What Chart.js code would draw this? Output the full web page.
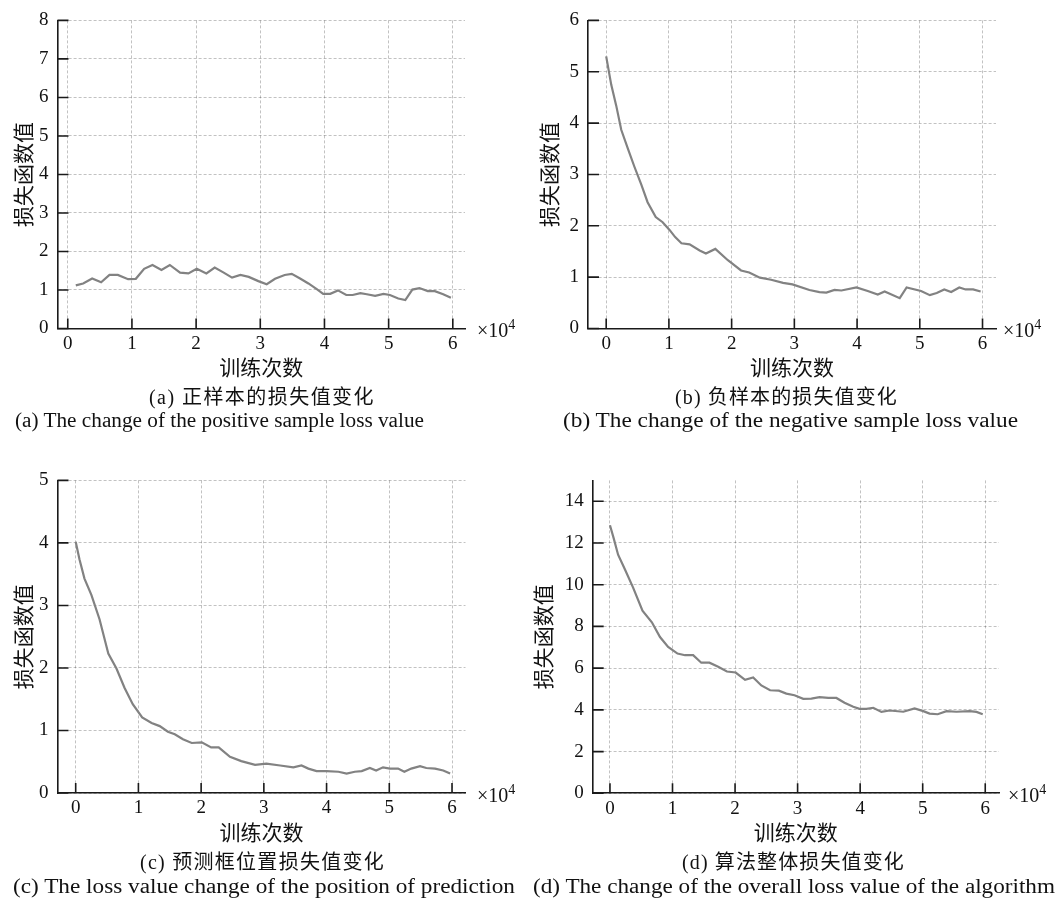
<!DOCTYPE html>
<html><head><meta charset="utf-8">
<script src="https://cdn.jsdelivr.net/npm/chart.js@4.4.1/dist/chart.umd.min.js"></script>
<style>
html,body{margin:0;padding:0;background:#fff;width:1064px;height:901px;overflow:hidden;position:relative}
canvas{position:absolute;display:block}
.t{position:absolute;white-space:nowrap;color:#111;font-family:"Liberation Serif","Noto Sans CJK SC",serif;line-height:1;transform-origin:0 50%}
.x4{position:absolute;font-family:"Liberation Serif",serif;font-size:20px;color:#111;white-space:nowrap;line-height:1}
.x4 sup{font-size:14px;vertical-align:0;position:relative;top:-8px}
</style></head><body>
<canvas id="ca"></canvas><canvas id="cb"></canvas><canvas id="cc"></canvas><canvas id="cd"></canvas>

<div class="x4" style="left:477px;top:320px">×10<sup>4</sup></div>
<div class="x4" style="left:1003px;top:320px">×10<sup>4</sup></div>
<div class="x4" style="left:477px;top:785px">×10<sup>4</sup></div>
<div class="x4" style="left:1008px;top:785px">×10<sup>4</sup></div>

<div class="t cn" style="left:149px;top:387px;font-size:20px" data-w="226">(a) 正样本的损失值变化</div>
<div class="t en" style="left:15px;top:410px;font-size:20px" data-w="409">(a) The change of the positive sample loss value</div>
<div class="t cn" style="left:675px;top:387px;font-size:20px" data-w="223">(b) 负样本的损失值变化</div>
<div class="t en" style="left:563px;top:410px;font-size:20px" data-w="455">(b) The change of the negative sample loss value</div>
<div class="t cn" style="left:140px;top:852px;font-size:20px" data-w="245">(c) 预测框位置损失值变化</div>
<div class="t en" style="left:13px;top:876px;font-size:20px" data-w="502">(c) The loss value change of the position of prediction</div>
<div class="t cn" style="left:682px;top:852px;font-size:20px" data-w="223">(d) 算法整体损失值变化</div>
<div class="t en" style="left:533px;top:876px;font-size:20px" data-w="522">(d) The change of the overall loss value of the algorithm</div>

<script>
// ---- data (x in units of 10^4 iterations) ----
const xTicks = [0, 1, 2, 3, 4, 5, 6];
const yTicksA = [0, 1, 2, 3, 4, 5, 6, 7, 8];
const yTicksB = [0, 1, 2, 3, 4, 5, 6];
const yTicksC = [0, 1, 2, 3, 4, 5];
const yTicksD = [0, 2, 4, 6, 8, 10, 12, 14];
const xTitle = '训练次数';
const yTitle = '损失函数值';

const aX = [0.125,0.24,0.38,0.52,0.65,0.78,0.94,1.06,1.19,1.32,1.46,1.59,1.75,1.88,2.01,2.16,2.29,2.43,2.56,2.69,2.82,2.97,3.10,3.23,3.38,3.49,3.62,3.75,3.88,3.98,4.09,4.21,4.34,4.44,4.56,4.66,4.79,4.92,5.02,5.15,5.26,5.37,5.48,5.61,5.72,5.85,5.97];
const aY = [1.12,1.17,1.30,1.20,1.39,1.39,1.28,1.29,1.55,1.65,1.52,1.65,1.45,1.43,1.55,1.43,1.58,1.45,1.32,1.39,1.34,1.23,1.15,1.29,1.39,1.42,1.30,1.17,1.02,0.90,0.90,0.99,0.87,0.87,0.92,0.89,0.85,0.90,0.87,0.78,0.74,1.01,1.05,0.97,0.97,0.89,0.80];

const bX = [0,0.08,0.16,0.24,0.35,0.45,0.56,0.66,0.79,0.90,1.01,1.10,1.20,1.33,1.49,1.59,1.74,1.94,2.15,2.28,2.45,2.63,2.82,2.97,3.24,3.40,3.51,3.64,3.75,3.99,4.17,4.33,4.44,4.68,4.79,5.02,5.16,5.27,5.39,5.50,5.63,5.73,5.85,5.97];
const bY = [5.30,4.75,4.34,3.87,3.49,3.15,2.80,2.46,2.17,2.07,1.92,1.78,1.66,1.64,1.52,1.46,1.55,1.33,1.13,1.09,0.99,0.95,0.89,0.86,0.75,0.71,0.70,0.75,0.74,0.80,0.73,0.66,0.72,0.59,0.80,0.73,0.65,0.69,0.76,0.71,0.80,0.76,0.76,0.72];

const cX = [0,0.06,0.14,0.25,0.38,0.52,0.65,0.78,0.91,1.06,1.21,1.34,1.47,1.58,1.71,1.85,2.01,2.16,2.28,2.46,2.64,2.86,3.04,3.26,3.47,3.60,3.71,3.84,4.0,4.19,4.32,4.45,4.56,4.69,4.79,4.90,5.01,5.14,5.24,5.35,5.49,5.59,5.73,5.86,5.97];
const cY = [4.02,3.74,3.43,3.17,2.78,2.23,1.99,1.68,1.42,1.21,1.12,1.07,0.98,0.94,0.86,0.80,0.81,0.73,0.73,0.58,0.51,0.45,0.47,0.44,0.41,0.44,0.39,0.35,0.35,0.34,0.31,0.34,0.35,0.40,0.36,0.41,0.39,0.39,0.34,0.39,0.43,0.40,0.39,0.36,0.31];

const dX = [0,0.06,0.13,0.24,0.37,0.52,0.67,0.80,0.93,1.08,1.20,1.33,1.46,1.59,1.73,1.87,2.01,2.16,2.29,2.42,2.56,2.70,2.82,2.95,3.09,3.22,3.35,3.49,3.62,3.75,3.89,3.99,4.10,4.21,4.34,4.47,4.69,4.87,5.01,5.11,5.24,5.38,5.54,5.75,5.86,5.96];
const dY = [12.85,12.22,11.44,10.73,9.86,8.75,8.20,7.49,7.02,6.70,6.62,6.62,6.26,6.26,6.07,5.84,5.79,5.44,5.55,5.17,4.94,4.92,4.78,4.70,4.53,4.54,4.61,4.57,4.57,4.34,4.15,4.05,4.05,4.10,3.90,3.97,3.91,4.07,3.94,3.82,3.79,3.94,3.91,3.94,3.90,3.79];

// ---- rendering ----
const innerTicks = {
  id: 'innerTicks',
  afterDraw(chart) {
    const {ctx, chartArea: {left, bottom}, scales: {x, y}} = chart;
    ctx.save();
    ctx.strokeStyle = '#1a1a1a';
    ctx.lineWidth = 1.6;
    ctx.beginPath();
    x.ticks.forEach(t => { const px = x.getPixelForValue(t.value); ctx.moveTo(px, bottom); ctx.lineTo(px, bottom - 10); });
    y.ticks.forEach(t => { const py = y.getPixelForValue(t.value); ctx.moveTo(left, py); ctx.lineTo(left + 11, py); });
    ctx.stroke();
    ctx.restore();
  }
};

function makeChart(id, xs, ys, yTicks, g) {
  const cv = document.getElementById(id);
  cv.width = g.W; cv.height = g.H;
  cv.style.left = g.L + 'px'; cv.style.top = g.T + 'px';
  cv.style.width = g.W + 'px'; cv.style.height = g.H + 'px';
  const yw = g.left - g.L;
  const xh = g.T + g.H - g.bottom;
  const gridCfg = {color: 'rgba(0,0,0,0.24)', lineWidth: 1, drawTicks: false};
  const borderCfg = {display: true, color: '#1a1a1a', width: 1.6, dash: [3, 2]};
  const tickFont = {family: "'Liberation Serif', serif", size: 19};
  new Chart(cv, {
    type: 'line',
    data: {datasets: [{
      data: xs.map((v, i) => ({x: v, y: ys[i]})),
      borderColor: '#828282', borderWidth: 2.2, pointRadius: 0, tension: 0, fill: false
    }]},
    options: {
      responsive: false, animation: false, devicePixelRatio: 1,
      layout: {padding: {left: 0, right: g.L + g.W - g.right, top: g.top - g.T, bottom: 0}},
      plugins: {legend: {display: false}, tooltip: {enabled: false}},
      scales: {
        x: {
          type: 'linear', min: g.xmin, max: g.xmax,
          afterBuildTicks: s => { s.ticks = xTicks.map(v => ({value: v})); },
          afterFit: s => { s.height = xh; },
          ticks: {font: tickFont, color: '#111', padding: 4, maxRotation: 0, autoSkip: false, callback: v => String(v)},
          grid: gridCfg, border: borderCfg,
          title: {display: true, text: xTitle, color: '#111', font: {family: "'Noto Sans CJK SC'", size: 21}, padding: {top: 0, bottom: xh - 12.6 - 39}}
        },
        y: {
          type: 'linear', min: 0, max: g.ymax,
          afterBuildTicks: s => { s.ticks = yTicks.map(v => ({value: v})); },
          afterFit: s => { s.width = yw; },
          ticks: {font: tickFont, color: '#111', padding: 9, autoSkip: false, callback: v => String(v)},
          grid: gridCfg, border: borderCfg,
          title: {display: true, text: yTitle, color: '#111', font: {family: "'Noto Sans CJK SC'", size: 21}, padding: {top: g.ytx - g.L - 12.6, bottom: 0}}
        }
      }
    },
    plugins: [innerTicks]
  });
}

makeChart('ca', aX, aY, yTicksA, {L: 0, T: 0, W: 530, H: 390, left: 57.5, right: 465, top: 10, bottom: 328.5, xmin: -0.16, xmax: 6.19, ymax: 8, ytx: 23});
makeChart('cb', bX, bY, yTicksB, {L: 530, T: 0, W: 534, H: 390, left: 588, right: 996, top: 10, bottom: 328.5, xmin: -0.29, xmax: 6.215, ymax: 6, ytx: 549});
makeChart('cc', cX, cY, yTicksC, {L: 0, T: 460, W: 530, H: 395, left: 57.5, right: 465.5, top: 474.5, bottom: 793, xmin: -0.29, xmax: 6.215, ymax: 5, ytx: 23});
makeChart('cd', dX, dY, yTicksD, {L: 530, T: 460, W: 534, H: 395, left: 592.7, right: 999, top: 476, bottom: 793.3, xmin: -0.276, xmax: 6.22, ymax: 15, ytx: 543});

document.querySelectorAll('.t').forEach(el => {
  const tw = +el.dataset.w;
  const w = el.getBoundingClientRect().width;
  if (el.classList.contains('en')) {
    el.style.transform = 'scaleX(' + (tw / w).toFixed(4) + ')';
  } else {
    const n = el.textContent.length;
    el.style.letterSpacing = ((tw - w) / n).toFixed(3) + 'px';
  }
});
</script>
</body></html>
